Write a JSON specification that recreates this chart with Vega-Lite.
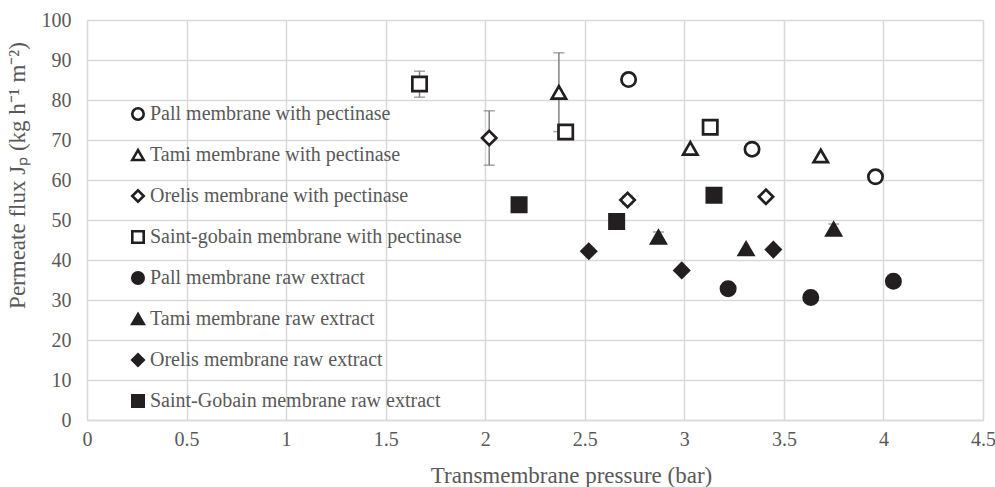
{
  "$schema": "https://vega.github.io/schema/vega-lite/v6.json",
  "autosize": "none",
  "width": 896,
  "height": 400,
  "padding": {"left": 87, "top": 20, "right": 12, "bottom": 67},
  "background": "white",
  "config": {
    "font": "Liberation Serif",
    "view": {"stroke": null},
    "axis": {
      "labelFont": "Liberation Serif",
      "titleFont": "Liberation Serif",
      "labelColor": "#595959",
      "titleColor": "#595959",
      "labelFontSize": 20,
      "titleFontSize": 23,
      "titleFontWeight": "normal",
      "gridColor": "#d9d9d9",
      "gridWidth": 1.5,
      "ticks": false,
      "domain": false,
      "labelOverlap": false
    }
  },
  "data": {
    "values": [
      {"series": "Pall membrane with pectinase", "x": 2.72, "y": 85.1},
      {"series": "Pall membrane with pectinase", "x": 3.34, "y": 67.7},
      {"series": "Pall membrane with pectinase", "x": 3.96, "y": 60.8},
      {"series": "Tami membrane with pectinase", "x": 2.37, "y": 81.9, "lo": 72.1, "hi": 91.8},
      {"series": "Tami membrane with pectinase", "x": 3.03, "y": 67.9},
      {"series": "Tami membrane with pectinase", "x": 3.685, "y": 66.0},
      {"series": "Orelis membrane with pectinase", "x": 2.02, "y": 70.5, "lo": 63.7, "hi": 77.3},
      {"series": "Orelis membrane with pectinase", "x": 2.715, "y": 55.0, "lo": 54.0, "hi": 56.0},
      {"series": "Orelis membrane with pectinase", "x": 3.41, "y": 55.8},
      {"series": "Saint-gobain membrane with pectinase", "x": 1.67, "y": 84.0, "lo": 80.7, "hi": 87.2},
      {"series": "Saint-gobain membrane with pectinase", "x": 2.404, "y": 72.0, "lo": 70.3, "hi": 73.7},
      {"series": "Saint-gobain membrane with pectinase", "x": 3.13, "y": 73.2},
      {"series": "Pall membrane raw extract", "x": 3.22, "y": 32.8},
      {"series": "Pall membrane raw extract", "x": 3.635, "y": 30.6},
      {"series": "Pall membrane raw extract", "x": 4.05, "y": 34.7},
      {"series": "Tami membrane raw extract", "x": 2.87, "y": 45.7, "lo": 44.5, "hi": 47.0},
      {"series": "Tami membrane raw extract", "x": 3.31, "y": 42.8},
      {"series": "Tami membrane raw extract", "x": 3.75, "y": 47.7, "lo": 46.5, "hi": 49.0},
      {"series": "Orelis membrane raw extract", "x": 2.52, "y": 42.2},
      {"series": "Orelis membrane raw extract", "x": 2.987, "y": 37.4},
      {"series": "Orelis membrane raw extract", "x": 3.447, "y": 42.6},
      {"series": "Saint-Gobain membrane raw extract", "x": 2.17, "y": 53.8, "lo": 52.5, "hi": 55.0},
      {"series": "Saint-Gobain membrane raw extract", "x": 2.66, "y": 49.6},
      {"series": "Saint-Gobain membrane raw extract", "x": 3.149, "y": 56.2}
    ]
  },
  "encoding": {
    "x": {
      "field": "x", "type": "quantitative",
      "scale": {"domain": [0, 4.5], "nice": false},
      "title": "Transmembrane pressure (bar)",
      "axis": {
        "values": [0, 0.5, 1, 1.5, 2, 2.5, 3, 3.5, 4, 4.5],
        "format": "~g",
        "labelPadding": 9,
        "titlePadding": 15,
        "titleX": 484,
        "domain": true,
        "domainColor": "#d9d9d9",
        "domainWidth": 1.5,
        "labelFlush": false
      }
    }
  },
  "layer": [
    {
      "transform": [{"filter": "isValid(datum.lo)"}],
      "mark": {"type": "errorbar", "color": "#808080", "thickness": 1.5, "ticks": {"size": 11, "thickness": 1.5, "color": "#808080"}},
      "encoding": {
        "y": {
          "field": "lo", "type": "quantitative",
          "scale": {"domain": [0, 100], "nice": false},
          "title": "Permeate flux Jₚ (kg h⁻¹ m⁻²)",
          "axis": {"values": [0, 10, 20, 30, 40, 50, 60, 70, 80, 90, 100], "labelPadding": 16, "titlePadding": 12, "titleY": 155}
        },
        "y2": {"field": "hi"}
      }
    },
    {
      "mark": {"type": "point", "filled": false, "strokeWidth": 2.7, "size": 205, "opacity": 1},
      "encoding": {
        "y": {
          "field": "y", "type": "quantitative",
          "scale": {"domain": [0, 100], "nice": false},
          "title": "Permeate flux Jₚ (kg h⁻¹ m⁻²)",
          "axis": {"values": [0, 10, 20, 30, 40, 50, 60, 70, 80, 90, 100], "labelPadding": 16, "titlePadding": 12, "titleY": 155}
        },
        "shape": {
          "field": "series", "type": "nominal",
          "scale": {
            "domain": [
              "Pall membrane with pectinase",
              "Tami membrane with pectinase",
              "Orelis membrane with pectinase",
              "Saint-gobain membrane with pectinase",
              "Pall membrane raw extract",
              "Tami membrane raw extract",
              "Orelis membrane raw extract",
              "Saint-Gobain membrane raw extract"
            ],
            "range": ["circle", "triangle-up", "diamond", "square", "circle", "triangle-up", "diamond", "square"]
          },
          "legend": {
            "orient": "none", "legendX": 41, "legendY": 84, "title": null,
            "labelFont": "Liberation Serif", "labelFontSize": 20, "labelColor": "#595959", "labelLimit": 0,
            "symbolSize": 130, "symbolStrokeWidth": 2.6,
            "rowPadding": 19, "labelOffset": 2, "symbolOpacity": 1
          }
        },
        "fill": {
          "field": "series", "type": "nominal",
          "scale": {
            "domain": [
              "Pall membrane with pectinase",
              "Tami membrane with pectinase",
              "Orelis membrane with pectinase",
              "Saint-gobain membrane with pectinase",
              "Pall membrane raw extract",
              "Tami membrane raw extract",
              "Orelis membrane raw extract",
              "Saint-Gobain membrane raw extract"
            ],
            "range": ["#ffffff", "#ffffff", "#ffffff", "#ffffff", "#231f20", "#231f20", "#231f20", "#231f20"]
          }
        },
        "stroke": {
          "field": "series", "type": "nominal",
          "scale": {
            "domain": [
              "Pall membrane with pectinase",
              "Tami membrane with pectinase",
              "Orelis membrane with pectinase",
              "Saint-gobain membrane with pectinase",
              "Pall membrane raw extract",
              "Tami membrane raw extract",
              "Orelis membrane raw extract",
              "Saint-Gobain membrane raw extract"
            ],
            "range": ["#231f20", "#231f20", "#231f20", "#231f20", "#231f20", "#231f20", "#231f20", "#231f20"]
          }
        }
      }
    }
  ]
}
